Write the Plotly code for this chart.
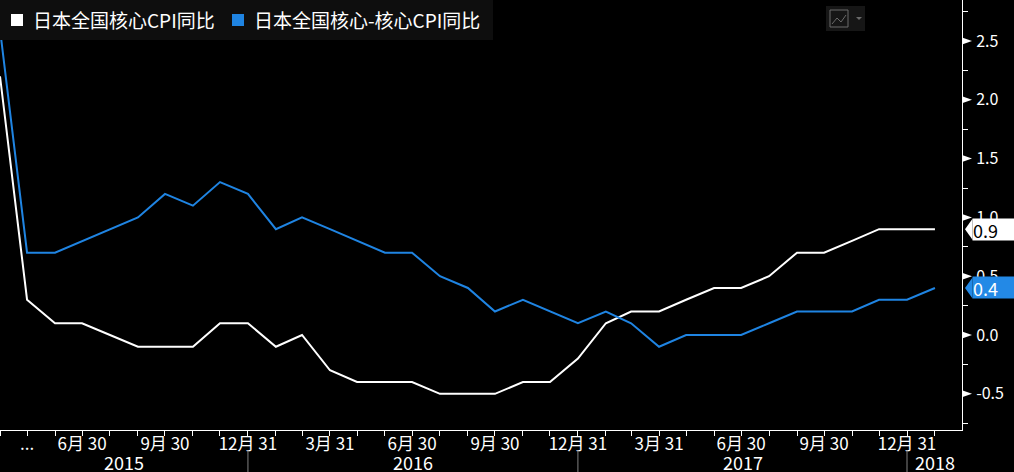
import pandas as pd
import plotly.graph_objects as go

# ---------------- data ----------------
months = pd.date_range("2015-03-31", periods=35, freq="ME")
core_cpi = [2.2, 0.3, 0.1, 0.1, 0.0, -0.1, -0.1, -0.1, 0.1, 0.1,
            -0.1, 0.0, -0.3, -0.4, -0.4, -0.4, -0.5, -0.5, -0.5, -0.4, -0.4, -0.2,
            0.1, 0.2, 0.2, 0.3, 0.4, 0.4, 0.5, 0.7, 0.7, 0.8, 0.9, 0.9,
            0.9]
core_core_cpi = [2.6, 0.7, 0.7, 0.8, 0.9, 1.0, 1.2, 1.1, 1.3, 1.2,
                 0.9, 1.0, 0.9, 0.8, 0.7, 0.7, 0.5, 0.4, 0.2, 0.3, 0.2, 0.1,
                 0.2, 0.1, -0.1, 0.0, 0.0, 0.0, 0.1, 0.2, 0.2, 0.2, 0.3, 0.3,
                 0.4]
series_names = ["日本全国核心CPI同比", "日本全国核心-核心CPI同比"]
series_colors = ["#ffffff", "#1f84e2"]
label_box_colors = ["#ffffff", "#2389e6"]
label_text_colors = ["#000000", "#ffffff"]
y_tickvals = [-0.5, 0.0, 0.5, 1.0, 1.5, 2.0, 2.5]
y_ticktext = ["-0.5", "0.0", "0.5", "1.0", "1.5", "2.0", "2.5"]
x_range = ["2015-03-31", "2018-03-02"]
years = [2015, 2016, 2017, 2018]

# quarterly labels
def month_label(d):
    if d == pd.Timestamp("2015-04-30"):
        return "..."
    if d.month in (3, 6, 9, 12):
        return f"{d.month}月 {d.day}"
    return ""
x_ticktext = [month_label(d) for d in months]

# ---------------- layout helpers ----------------
W, H = 1014, 472
L, R, T, B = 0, 52, 0, 42
PW, PH = W - L - R, H - T - B
def px(x):  # pixel x -> paper
    return (x - L) / PW
def py(y):  # pixel y -> paper
    return (H - B - y) / PH
YR = [-0.8078, 2.8486]
unit = PH / (YR[1] - YR[0])

FONT = "Noto Sans CJK SC, Noto Sans, sans-serif"

fig = go.Figure()
for name, vals, col in zip(series_names, [core_cpi, core_core_cpi], series_colors):
    fig.add_trace(go.Scatter(x=months, y=vals, mode="lines", name=name,
                             line=dict(color=col, width=2), showlegend=False,
                             hoverinfo="skip"))

shapes = []
annotations = []

# legend background
shapes.append(dict(type="rect", xref="paper", yref="paper", x0=px(0), x1=px(493),
                   y0=py(40), y1=py(0), fillcolor="#0e0e0e", line=dict(width=0),
                   layer="above"))
leg_sq = [(11, 31), (232, 252)]
for (sx, tx), name, col in zip(leg_sq, series_names, series_colors):
    shapes.append(dict(type="rect", xref="paper", yref="paper", x0=px(sx), x1=px(sx + 12),
                       y0=py(26), y1=py(14), fillcolor=col, line=dict(width=0), layer="above"))
    annotations.append(dict(xref="paper", yref="paper", x=px(tx), y=py(20), xanchor="left",
                            yanchor="middle", text=name, showarrow=False,
                            font=dict(family=FONT, size=19, color="#ffffff")))

# chart-type icon
shapes.append(dict(type="rect", xref="paper", yref="paper", x0=px(826), x1=px(865),
                   y0=py(31), y1=py(6), fillcolor="#161616", line=dict(width=0), layer="above"))
shapes.append(dict(type="rect", xref="paper", yref="paper", x0=px(830), x1=px(848),
                   y0=py(27), y1=py(10), fillcolor="rgba(0,0,0,0)",
                   line=dict(color="#6a6a6a", width=1), layer="above"))
shapes.append(dict(type="path", xref="paper", yref="paper",
                   path=f"M {px(832)},{py(24)} L {px(837)},{py(18)} L {px(841)},{py(22)} L {px(846)},{py(15)}",
                   line=dict(color="#6a6a6a", width=1), layer="above"))
shapes.append(dict(type="path", xref="paper", yref="paper",
                   path=f"M {px(856)},{py(17)} L {px(862)},{py(17)} L {px(859)},{py(20)} Z",
                   fillcolor="#6a6a6a", line=dict(width=0), layer="above"))

# triangle major ticks on right axis
dy = 3.5 / unit
for v in y_tickvals:
    shapes.append(dict(type="path", xref="paper", yref="y",
                       path=f"M {px(962)},{v + dy} L {px(972)},{v} L {px(962)},{v - dy} Z",
                       fillcolor="#ffffff", line=dict(width=0), layer="above"))

# last value labels
for vals, bc, tc in zip([core_cpi, core_core_cpi], label_box_colors, label_text_colors):
    v = vals[-1]
    h = 10.5 / unit
    shapes.append(dict(type="path", xref="paper", yref="y",
                       path=f"M {px(965)},{v} L {px(972.5)},{v + h} L {px(972.5)},{v - h} Z",
                       fillcolor=bc, line=dict(width=0), layer="above"))
    annotations.append(dict(xref="paper", yref="y", x=px(972), y=v, xanchor="left",
                            yanchor="middle", text=f"{v:.1f}", showarrow=False,
                            width=42, height=21, align="left", bgcolor=bc, borderpad=0,
                            font=dict(family=FONT, size=18, color=tc)))

# year labels and separators
x0d, x1d = pd.Timestamp(x_range[0]), pd.Timestamp(x_range[1])
for yv in years:
    a = max(pd.Timestamp(f"{yv}-01-01"), x0d)
    b = min(pd.Timestamp(f"{yv}-12-31"), x1d)
    mid = a + (b - a) / 2
    annotations.append(dict(xref="x", yref="paper", x=mid, y=py(462), xanchor="center",
                            yanchor="middle", text=str(yv), showarrow=False,
                            font=dict(family=FONT, size=18, color="#ffffff")))
    if yv > years[0]:
        sep = pd.Timestamp(f"{yv - 1}-12-31")
        shapes.append(dict(type="line", xref="x", yref="paper", x0=sep, x1=sep,
                           y0=py(450), y1=py(472), line=dict(color="#808080", width=1)))

fig.update_layout(
    width=W, height=H,
    margin=dict(l=L, r=R, t=T, b=B),
    paper_bgcolor="#000000", plot_bgcolor="#000000",
    showlegend=False,
    shapes=shapes, annotations=annotations,
    font=dict(family=FONT, color="#ffffff"),
    xaxis=dict(type="date", range=x_range, showgrid=False, zeroline=False,
               showline=True, linecolor="#ffffff", linewidth=1,
               tickmode="array", tickvals=months, ticktext=x_ticktext,
               ticks="outside", ticklen=5, tickcolor="#ffffff", tickwidth=1,
               ticklabelstandoff=-6,
               tickfont=dict(family=FONT, size=17, color="#ffffff")),
    yaxis=dict(side="right", range=YR, showgrid=False, zeroline=False,
               showline=True, linecolor="#ffffff", linewidth=1,
               tickmode="array", tickvals=y_tickvals, ticktext=y_ticktext,
               ticks="outside", ticklen=10, tickcolor="rgba(0,0,0,0)",
               tickfont=dict(family=FONT, size=16, color="#ffffff"),
               minor=dict(tickmode="array", tickvals=[v + 0.25 for v in [-1.0] + y_tickvals],
                          ticks="outside", ticklen=5, tickcolor="#ffffff", tickwidth=1)),
)

fig.write_html("out.html", config={"displayModeBar": False},
               post_script="document.body.style.margin='0';document.body.style.overflow='hidden';")
